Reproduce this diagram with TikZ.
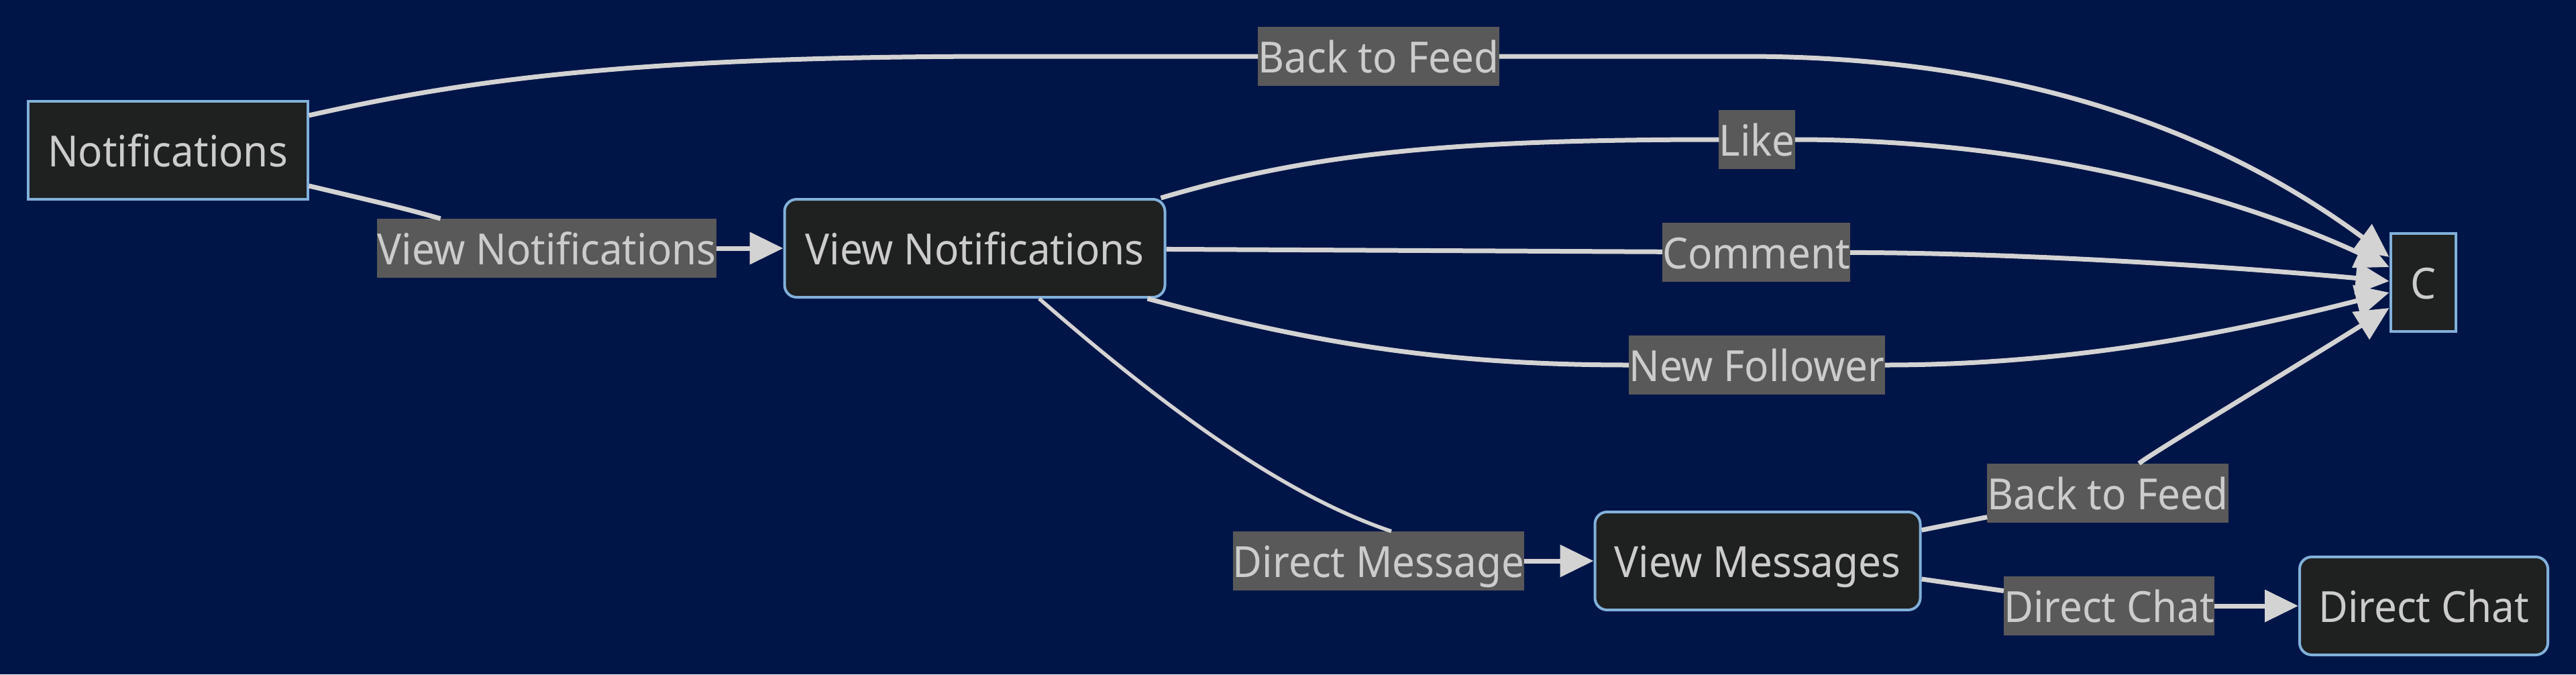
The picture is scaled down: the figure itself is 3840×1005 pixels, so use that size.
\documentclass[tikz,border=0pt]{standalone}
\usepackage{fontspec}
\setmainfont[FakeStretch=0.94]{Noto Sans}
\usetikzlibrary{arrows.meta}
\definecolor{bgblue}{HTML}{001547}
\definecolor{boxfill}{HTML}{1F2020}
\definecolor{boxline}{HTML}{81B1DB}
\definecolor{edgegray}{HTML}{D3D3D3}
\definecolor{lblfill}{HTML}{595959}
\definecolor{txtgray}{HTML}{CCCCCC}
\begin{document}
\begin{tikzpicture}[x=1pt, y=-1pt,
    txt/.style={text=txtgray, font=\fontsize{64}{77}\selectfont, text height=62pt, text depth=14pt},
    state/.style={txt, draw=boxline, line width=4pt, fill=boxfill, minimum height=146pt, inner sep=0pt},
    rstate/.style={state, rounded corners=18pt},
    lbl/.style={txt, fill=lblfill, minimum height=88pt, inner xsep=0pt, inner ysep=0pt},
    edge/.style={draw=edgegray, line width=7pt},
    arr/.style={edge, -{Triangle[length=50pt,width=47pt]}}]
    \fill[bgblue] (0,0) rectangle (3840,1005);

    % Etats
    \node[state, minimum width=417pt] (notif) at (250,224) {Notifications};
    \node[rstate, minimum width=567pt] (vn) at (1453,370) {View Notifications};
    \node[state, minimum width=97pt] (c) at (3612,421) {C};
    \node[rstate, minimum width=485pt] (vm) at (2620,836) {View Messages};
    \node[rstate, minimum width=370pt] (dc) at (3613,903) {Direct Chat};

    % Etiquettes
    \node[lbl] (lfeed) at (2055,84) {Back to Feed};
    \node[lbl] (lview) at (815,370) {View Notifications};
    \node[lbl] (llike) at (2619,208) {Like};
    \node[lbl] (lcomm) at (2618,376) {Comment};
    \node[lbl] (lfoll) at (2619,544) {New Follower};
    \node[lbl] (ldm) at (2055,836) {Direct Message};
    \node[lbl] (lback) at (3142,735) {Back to Feed};
    \node[lbl] (lchat) at (3144,903) {Direct Chat};

    % Transitions
    \draw[edge] ([yshift=52pt]notif.east) .. controls (700,118) and (950,84) .. (1500,84) -- (lfeed);
    \draw[arr] (lfeed) -- (2600,84) .. controls (3000,84) and (3300,190) .. ([yshift=38pt]c.west);
    \draw[edge] ([yshift=-53pt]notif.east) .. controls (600,310) .. (lview);
    \draw[arr] (lview) -- (vn);
    \draw[edge] ([xshift=-8pt]vn.north east) .. controls (1950,230) and (2150,208) .. (llike);
    \draw[arr] (llike) .. controls (3050,208) and (3350,300) .. ([yshift=23pt]c.west);
    \draw[edge] (vn) -- (lcomm);
    \draw[arr] (lcomm) .. controls (3000,377) and (3300,395) .. ([yshift=2pt]c.west);
    \draw[edge] ([xshift=-28pt]vn.south east) .. controls (1950,510) and (2150,544) .. (lfoll);
    \draw[arr] (lfoll) .. controls (3100,544) and (3350,490) .. ([yshift=-15pt]c.west);
    \draw[edge, line width=5.5pt] ([xshift=96pt]vn.south) .. controls (1750,620) and (1920,740) .. ([xshift=19pt]ldm.north);
    \draw[arr] (ldm) -- (vm);
    \draw[edge] ([yshift=46pt]vm.east) -- (lback);
    \draw[arr] (lback) .. controls (3200,680) and (3400,560) .. ([yshift=-38pt]c.west);
    \draw[edge] ([yshift=-27pt]vm.east) -- (lchat);
    \draw[arr] (lchat) -- (dc);
\end{tikzpicture}
\end{document}
